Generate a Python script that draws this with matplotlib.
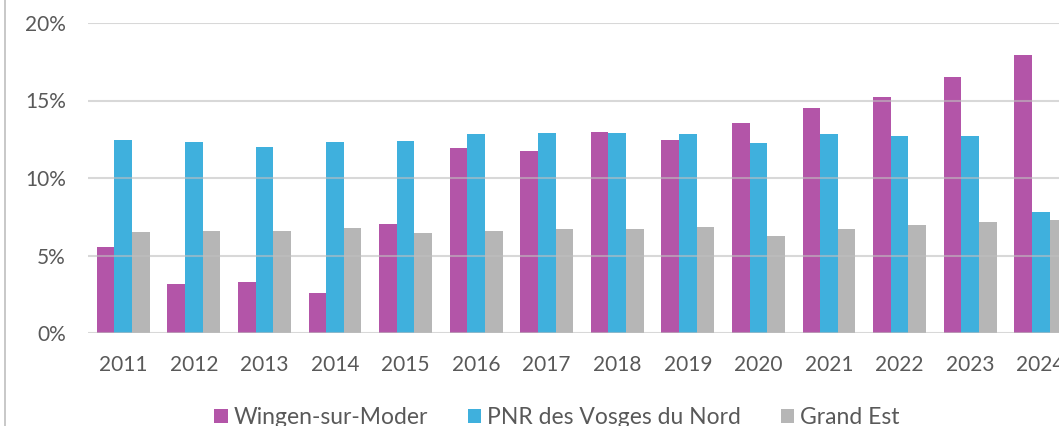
import numpy as np
import matplotlib.pyplot as plt
from matplotlib.patches import Patch
from matplotlib.lines import Line2D

plt.rcParams['font.family'] = ['Lato', 'DejaVu Sans']

years = ['2011', '2012', '2013', '2014', '2015', '2016', '2017',
         '2018', '2019', '2020', '2021', '2022', '2023', '2024']
wingen = [5.55, 3.16, 3.31, 2.6, 7.05, 11.91, 11.72,
          12.95, 12.48, 13.57, 14.52, 15.23, 16.54, 17.92]
pnr = [12.47, 12.34, 12.0, 12.35, 12.37, 12.82, 12.88,
       12.93, 12.86, 12.28, 12.86, 12.73, 12.69, 7.81]
grand_est = [6.54, 6.58, 6.58, 6.79, 6.42, 6.59, 6.68,
             6.7, 6.85, 6.29, 6.73, 6.97, 7.14, 7.29]
series_names = ['Wingen-sur-Moder', 'PNR des Vosges du Nord', 'Grand Est']

colors = ['#B355A8', '#3FB0DD', '#B6B6B6']
text_color = '#595959'

W, H = 1059, 426
fig = plt.figure(figsize=(W / 100, H / 100), dpi=100)
ax = fig.add_axes([88 / W, (H - 333) / H, (1076 - 88) / W, (333 - 23) / H])

x = np.arange(len(years))
bw = 0.25
for i, (vals, c) in enumerate(zip([wingen, pnr, grand_est], colors)):
    ax.bar(x + (i - 1) * bw, vals, width=bw, color=c, zorder=2)

# gridlines sit over the bars, a bit see-through
for v in range(0, 21, 5):
    ax.axhline(v, color='#BFBFBF', alpha=0.6, lw=1.5, zorder=3)

ax.set_xlim(-0.5, len(years) - 0.5)
ax.set_ylim(0, 20)
ax.set_yticks(range(0, 21, 5))
ax.set_yticklabels([f'{v}%' for v in range(0, 21, 5)])
ax.set_xticks(x)
ax.set_xticklabels(years)
ax.tick_params(length=0, labelsize=15, labelcolor=text_color)
ax.tick_params(axis='y', pad=16)
ax.tick_params(axis='x', pad=16)
for s in ax.spines.values():
    s.set_visible(False)

handles = [Patch(facecolor=c, edgecolor='none') for c in colors]
fig.legend(handles, series_names, loc='center', ncol=3,
           bbox_to_anchor=(557 / W, (H - 418) / H), frameon=False,
           fontsize=16.5, labelcolor=text_color, handlelength=0.57,
           handleheight=0.57, handletextpad=0.26, columnspacing=1.75,
           borderpad=0)

# outer chart border on the left
fig.add_artist(Line2D([4.5 / W, 4.5 / W], [0, 1], color='#BFBFBF', lw=1.2,
                      transform=fig.transFigure))

fig.savefig('out.png', dpi=100)
